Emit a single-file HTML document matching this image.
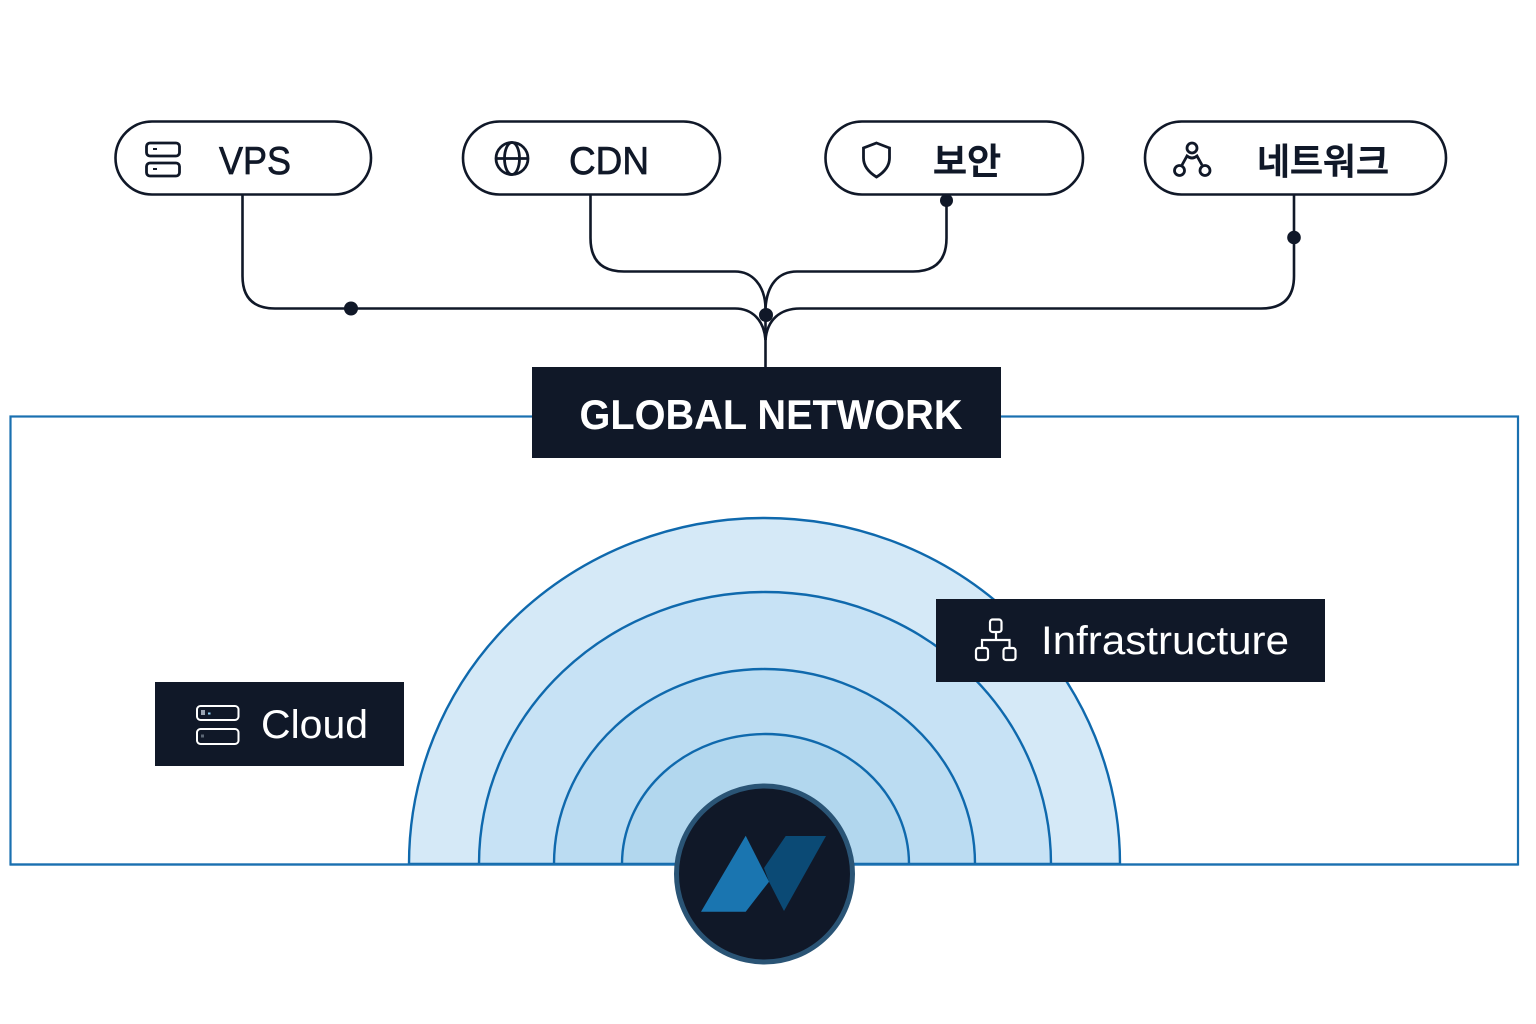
<!DOCTYPE html>
<html lang="ko">
<head>
<meta charset="utf-8">
<style>
html,body{margin:0;padding:0;background:#fff;}
svg{display:block;}
text{font-family:"Liberation Sans","Noto Sans CJK KR",sans-serif;}
</style>
</head>
<body>
<svg xmlns="http://www.w3.org/2000/svg" width="1536" height="1024" viewBox="0 0 1536 1024">
<rect width="1536" height="1024" fill="#ffffff"/>

<!-- Frame -->
<rect x="10.5" y="416.5" width="1507.5" height="448" fill="none" stroke="#1a70b0" stroke-width="2.2"/>

<!-- Arcs -->
<g stroke="#0f69ad" stroke-width="2.4">
<path d="M409 864 A355.5 346 0 0 1 1120 864 Z" fill="#d5e9f7"/>
<path d="M479 864 A286 272 0 0 1 1051 864 Z" fill="#c7e2f5"/>
<path d="M554 864 A210.5 195 0 0 1 975 864 Z" fill="#bbdcf2"/>
<path d="M622 864 A143.5 130 0 0 1 909 864 Z" fill="#b2d7ee"/>
</g>
<line x1="10" y1="864.5" x2="1518" y2="864.5" stroke="#1a70b0" stroke-width="2.2"/>

<!-- Connectors -->
<g fill="none" stroke="#101828" stroke-width="2.6">
<path d="M242.5 195 V276 Q242.5 308.5 275 308.5 H735 C752 308.5 764 320 765.500 340"/>
<path d="M1294 195 V276 Q1294 308.500 1261 308.500 H800 C780 308.500 767 320 765.500 340"/>
<path d="M590.500 195 V238 Q590.500 271.500 624 271.500 H735 C752 271.500 765 285 765.500 308"/>
<path d="M946.500 195 V238 Q946.500 271.500 913 271.500 H797 C778 271.500 767 285 765.500 308"/>
<path d="M765.500 308 V368"/>
</g>
<g fill="#101828">
<circle cx="351" cy="308.500" r="7"/>
<circle cx="946.500" cy="200.500" r="6.500"/>
<circle cx="1294" cy="237.500" r="6.800"/>
<circle cx="766" cy="315" r="7"/>
</g>

<!-- Pills -->
<g fill="#ffffff" stroke="#101828" stroke-width="2.600">
<rect x="115.500" y="121.500" width="255.500" height="73" rx="36.500"/>
<rect x="463" y="121.500" width="257" height="73" rx="36.500"/>
<rect x="825.500" y="121.500" width="257.500" height="73" rx="36.500"/>
<rect x="1145" y="121.500" width="301" height="73" rx="36.500"/>
</g>
<g fill="#101828" stroke="#101828" stroke-width="0.700" font-size="39">
<text x="219" y="174" textLength="72" lengthAdjust="spacingAndGlyphs">VPS</text>
<text x="569" y="174" textLength="80" lengthAdjust="spacingAndGlyphs">CDN</text>
<text x="933" y="174" font-size="36" font-weight="500" stroke-width="0.900" textLength="68" lengthAdjust="spacingAndGlyphs">보안</text>
<text x="1257" y="174" font-size="36" font-weight="500" stroke-width="0.900" textLength="132" lengthAdjust="spacingAndGlyphs">네트워크</text>
</g>

<!-- Pill icons -->
<g fill="none" stroke="#101828" stroke-width="2.800">
<rect x="146.500" y="143" width="33" height="13" rx="3.500"/>
<rect x="146.500" y="163" width="33" height="13" rx="3.500"/>
<circle cx="512" cy="158.500" r="16"/>
<ellipse cx="512" cy="158.500" rx="7.500" ry="16"/>
<line x1="496" y1="158.500" x2="528" y2="158.500"/>
<path d="M876.500 143 L889.500 148 V158 C889.500 167 883 173 876.500 177 C870 173 863.500 167 863.500 158 V148 Z"/>
<circle cx="1192" cy="148" r="5"/>
<circle cx="1179.500" cy="170.500" r="5"/>
<circle cx="1205" cy="170.500" r="5"/>
<path d="M1182 165 L1187 156 Q1192 160 1197 156 L1202 165"/>
</g>
<g fill="#101828">
<rect x="153" y="148" width="4" height="2"/>
<rect x="153" y="168" width="4" height="2"/>
</g>

<!-- Global Network -->
<rect x="532" y="367" width="469" height="91" fill="#101828"/>
<text x="579.500" y="429" font-size="42" font-weight="700" fill="#ffffff" textLength="383" lengthAdjust="spacingAndGlyphs">GLOBAL NETWORK</text>

<!-- Cloud -->
<rect x="155" y="682" width="249" height="84" fill="#101828"/>
<g fill="none" stroke="#ffffff" stroke-width="2">
<rect x="197" y="706" width="41.500" height="14" rx="3.500"/>
<rect x="197" y="729" width="41.500" height="15" rx="3.500"/>
</g>
<rect x="201" y="710" width="4" height="5" fill="#9aa4b2"/>
<rect x="208" y="712.500" width="2.500" height="2" fill="#8fd0f5"/>
<rect x="201" y="734.500" width="3" height="3" fill="#5b6675"/>
<text x="261" y="738" font-size="40" fill="#ffffff" textLength="107" lengthAdjust="spacingAndGlyphs">Cloud</text>

<!-- Infrastructure -->
<rect x="936" y="599" width="389" height="83" fill="#101828"/>
<g fill="none" stroke="#ffffff" stroke-width="2.200">
<rect x="990" y="619.500" width="11.500" height="12.500" rx="2.500"/>
<rect x="976" y="648" width="12" height="12" rx="2.500"/>
<rect x="1003.500" y="648" width="12" height="12" rx="2.500"/>
<path d="M996 632 V640 M982 648 V640 H1009.500 V648"/>
</g>
<text x="1041" y="654" font-size="40" fill="#ffffff" textLength="248" lengthAdjust="spacingAndGlyphs">Infrastructure</text>

<!-- Logo -->
<circle cx="764.500" cy="874" r="88" fill="#101828" stroke="#2a5475" stroke-width="5"/>
<polygon points="764,868 785.700,836 826,836 784,911 769,881.700" fill="#0b4a75"/>
<polygon points="701,911.700 745.700,835.700 769,881.700 745.700,911.700" fill="#1a75b0"/>
</svg>
</body>
</html>
